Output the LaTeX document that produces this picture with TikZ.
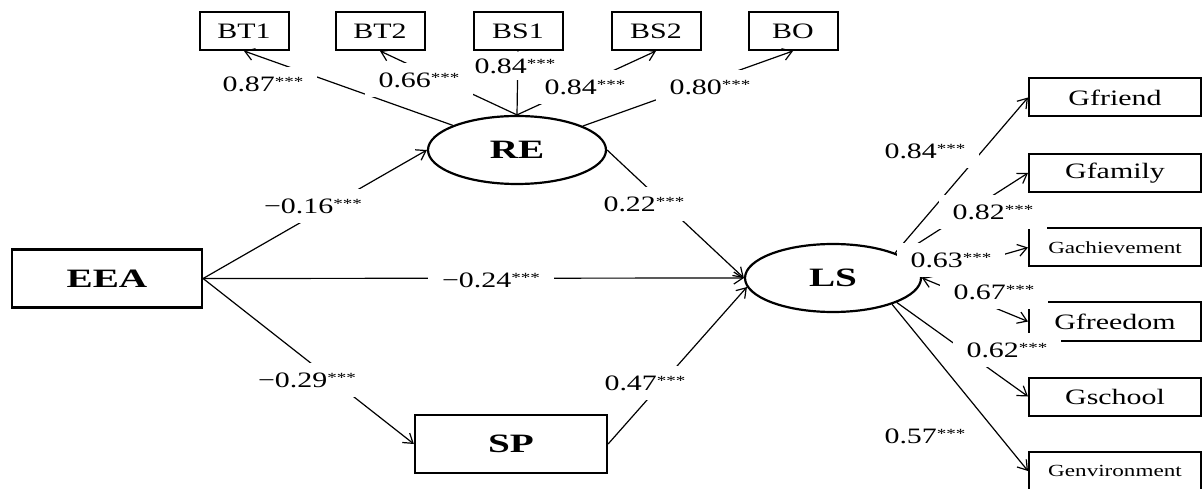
\documentclass[tikz,border=0pt]{standalone}
\usepackage{fontspec}
\setmainfont{Liberation Serif}[FakeStretch=1.36]
\newfontfamily\boldfam{Liberation Serif}[FakeStretch=1.48]
\usetikzlibrary{arrows.meta,shapes.geometric}
\newcommand\stars{{\fontsize{14}{14}\selectfont\raisebox{5pt}{***}}}
\begin{document}
\begin{tikzpicture}[x=1pt,y=-1pt,
  box/.style={draw, line width=2pt, minimum width=89pt, minimum height=38pt, inner sep=0pt, font=\fontsize{22}{22}\selectfont},
  gbox/.style={draw, line width=2pt, minimum width=172pt, minimum height=38pt, inner sep=0pt, font=\fontsize{22}{22}\selectfont},
  sbox/.style={gbox, font=\fontsize{17}{17}\selectfont},
  big/.style={draw, line width=2.2pt, minimum width=190pt, minimum height=58pt, inner sep=0pt, font=\boldfam\bfseries\fontsize{26.5}{26.5}\selectfont},
  lat/.style={ellipse, draw, line width=2.2pt, minimum width=178pt, minimum height=68pt, inner sep=0pt, font=\boldfam\bfseries\fontsize{26.5}{26.5}\selectfont},
  lbl/.style={fill=white, inner xsep=14pt, inner ysep=10pt, font=\fontsize{22}{22}\selectfont},
  conn/.style={line width=1.2pt, -{Straight Barb[length=9pt,width=12pt]}},
]
\useasboundingbox (0,0) rectangle (1203,489);
% nodes
\node[big] (EEA) at (107,278.5) {EEA};
\node[big, minimum width=192pt] (SP) at (511,444) {SP};
\node[lat] (RE) at (517,150) {RE};
\node[lat, minimum width=176pt] (LS) at (833,278) {LS};
\node[box] (BT1) at (244,31) {BT1};
\node[box] (BT2) at (380,31) {BT2};
\node[box] (BS1) at (518,31) {BS1};
\node[box] (BS2) at (656,31) {BS2};
\node[box] (BO) at (793,31) {BO};
\node[gbox] (Gfriend) at (1115,97.5) {Gfriend};
\node[gbox] (Gfamily) at (1115,173) {Gfamily};
\node[sbox] (Gachievement) at (1115,247.5) {Gachievement};
\node[gbox] (Gfreedom) at (1115,321.5) {Gfreedom};
\node[gbox] (Gschool) at (1115,396.5) {Gschool};
\node[sbox] (Genvironment) at (1115,471) {Genvironment};
% connectors
\draw[conn] (RE.159) -- (BT1.south);
\draw[conn] (RE.north) -- (BT2.south);
\draw[conn] (RE.north) -- (BS1.south);
\draw[conn] (RE.north) -- (BS2.south);
\draw[conn] (RE.20) -- (BO.south);
\draw[conn] (EEA.east) -- (RE.west);
\draw[conn] (EEA.east) -- (LS.west);
\draw[conn] (EEA.east) -- (SP.west);
\draw[conn] (RE.east) -- (LS.west);
\draw[conn] (SP.east) -- (LS.186);
\draw[conn] (LS.22) -- (Gfriend.west);
\draw[conn] (LS.19) -- (Gfamily.west);
\draw[conn] (LS.east) -- (Gachievement.west);
\draw[conn, {Straight Barb[length=9pt,width=12pt]}-{Straight Barb[length=9pt,width=12pt]}] (LS.east) -- (Gfreedom.west);
\draw[conn] (LS.-21) -- (Gschool.west);
\draw[conn] (LS.-24) -- (Genvironment.west);
% labels
\node[lbl] (l87) at (263,84) {0.87\stars};
\node[lbl] (l66) at (419,80) {0.66\stars};
\node[lbl, inner ysep=7pt] (l84a) at (515,66) {0.84\stars};
\node[lbl] (l84b) at (585,87) {0.84\stars};
\node[lbl] (l80) at (710,87) {0.80\stars};
\node[lbl] (lm16) at (313,206) {−0.16\stars};
\node[lbl] (lm24) at (491,280) {−0.24\stars};
\node[lbl] (lm29) at (307,380) {−0.29\stars};
\node[lbl] (l22) at (644,204) {0.22\stars};
\node[lbl] (l47) at (645,383) {0.47\stars};
\node[lbl] (r84) at (925,151) {0.84\stars};
\node[lbl] (r82) at (993,212) {0.82\stars};
\node[lbl] (r63) at (951,260) {0.63\stars};
\node[lbl] (r67) at (994,292) {0.67\stars};
\node[lbl] (r62) at (1007,350) {0.62\stars};
\node[lbl] (r57) at (925,436) {0.57\stars};
\end{tikzpicture}
\end{document}
